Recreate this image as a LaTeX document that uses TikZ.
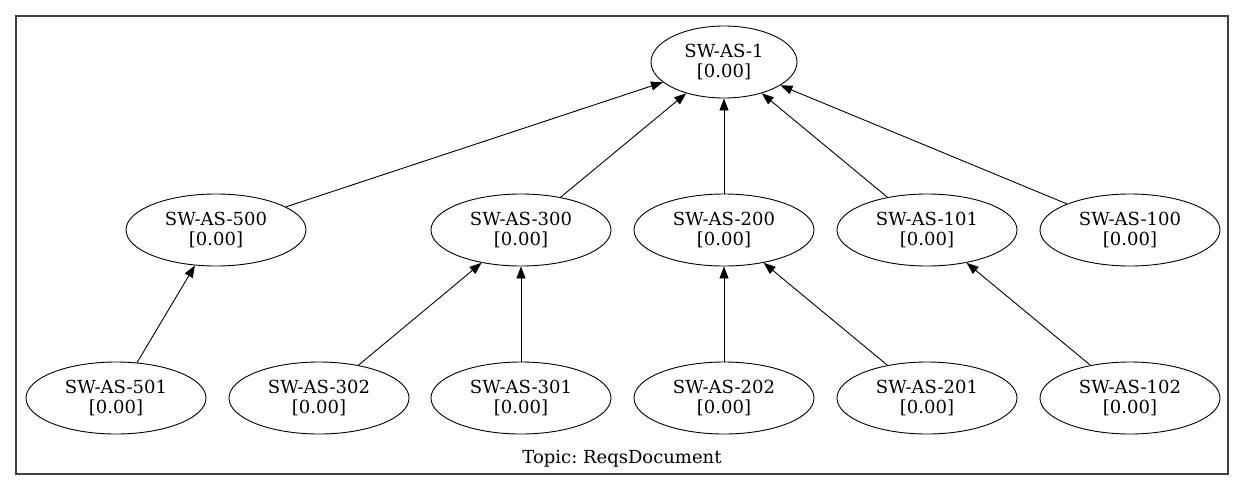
\documentclass[tikz,border=0pt]{standalone}
\usepackage{fontspec}
\setmainfont{DejaVu Serif}
\frenchspacing
\usetikzlibrary{shapes.geometric,arrows.meta}
\begin{document}
\begin{tikzpicture}[x=1pt,y=-1pt,
  req/.style={ellipse,draw,line width=0.9pt,minimum width=180pt,minimum height=72pt,inner sep=0pt,align=center,font=\fontsize{18}{20}\selectfont},
  top/.style={req,minimum width=146pt},
  link/.style={line width=0.9pt,-{Triangle[length=12pt,width=9pt]}}]
\useasboundingbox (0,0) rectangle (1245,491);
\node[draw=black!75,line width=1.1pt,minimum width=1212pt,minimum height=458pt,inner sep=0pt] (frame) at (622,245) {};
\node[font=\fontsize{18}{20}\selectfont] (topic) at (622,459) {Topic: ReqsDocument};
\node[top] (n1) at (724,62) {SW-AS-1\\{[0.00]}};
\node[req] (n500) at (216,230) {SW-AS-500\\{[0.00]}};
\node[req] (n300) at (521,230) {SW-AS-300\\{[0.00]}};
\node[req] (n200) at (724,230) {SW-AS-200\\{[0.00]}};
\node[req] (n101) at (927,230) {SW-AS-101\\{[0.00]}};
\node[req] (n100) at (1130,230) {SW-AS-100\\{[0.00]}};
\node[req] (n501) at (116,398) {SW-AS-501\\{[0.00]}};
\node[req] (n302) at (319,398) {SW-AS-302\\{[0.00]}};
\node[req] (n301) at (521,398) {SW-AS-301\\{[0.00]}};
\node[req] (n202) at (724,398) {SW-AS-202\\{[0.00]}};
\node[req] (n201) at (927,398) {SW-AS-201\\{[0.00]}};
\node[req] (n102) at (1130,398) {SW-AS-102\\{[0.00]}};
\draw[link] (n500) -- (n1);
\draw[link] (n300) -- (n1);
\draw[link] (n200) -- (n1);
\draw[link] (n101) -- (n1);
\draw[link] (n100) -- (n1);
\draw[link] (n501) -- (n500);
\draw[link] (n302) -- (n300);
\draw[link] (n301) -- (n300);
\draw[link] (n202) -- (n200);
\draw[link] (n201) -- (n200);
\draw[link] (n102) -- (n101);
\end{tikzpicture}
\end{document}
